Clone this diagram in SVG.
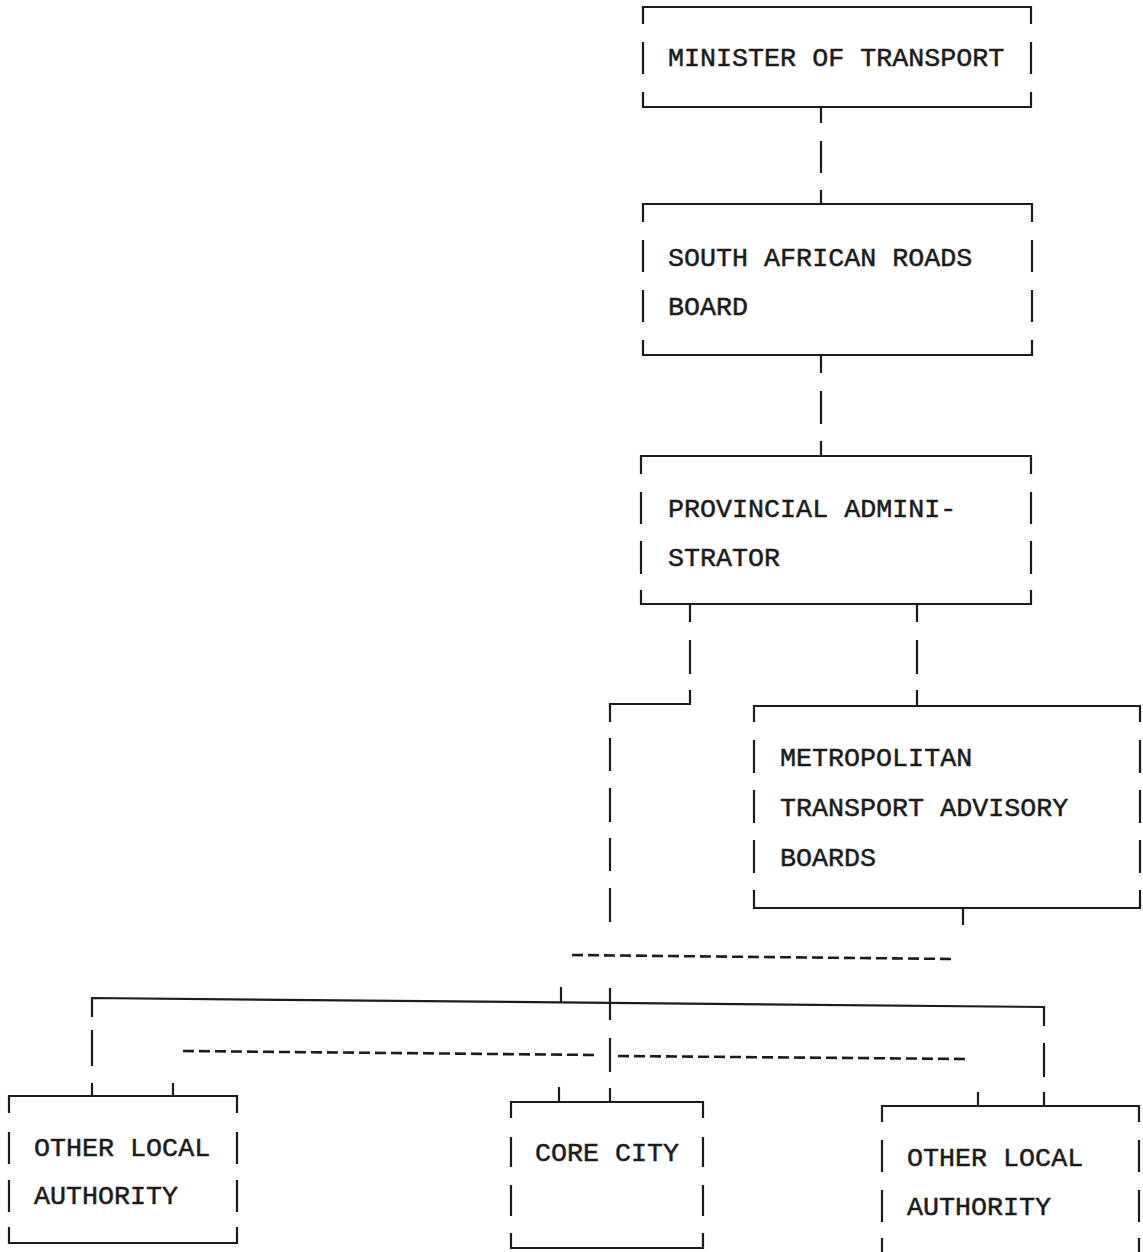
<svg xmlns="http://www.w3.org/2000/svg" width="1143" height="1252" viewBox="0 0 1143 1252">
<style>
.ln{fill:none;stroke:#1b1b1b;stroke-width:2.2;stroke-linecap:butt}
.dsh{fill:none;stroke:#1b1b1b;stroke-width:2.6;stroke-dasharray:11 5}
.t{font-family:"Liberation Mono","Courier New",monospace;font-size:26.7px;fill:#1b1b1b;stroke:#1b1b1b;stroke-width:0.5}
</style>
<rect width="1143" height="1252" fill="#fff"/>
<g id="connectors">
<path class="ln" d="M821,107V123M821,141V173M821,190V205"/>
<path class="ln" d="M821,355V373M821,391V424M821,441V456"/>
<path class="ln" d="M690,604V622M690,640V674M690,690V704H610V722M610,738V771M610,788V822M610,838V871M610,888V922"/>
<path class="ln" d="M917,604V622M917,640V674M917,690V707"/>
<path class="ln" d="M963,908V925"/>
<path class="dsh" d="M572,955L953,959"/>
<path class="ln" d="M92,1017V998L1044,1007V1026M1044,1043V1077M1044,1092V1107"/>
<path class="ln" d="M561,987V1002M610,988V1020M610,1038V1072M610,1088V1103"/>
<path class="ln" d="M92,1030V1066M92,1083V1096M173,1083V1096"/>
<path class="ln" d="M559,1087V1102M978,1092V1106"/>
<path class="dsh" d="M183,1051L598,1055"/>
<path class="dsh" d="M618,1056L968,1059"/>
</g>
<g id="minister">
<path class="ln" d="M643,24V7H1031V24M643,92V107H1031V92M643,42V74M1031,42V74"/>
<text class="t" x="668" y="66">MINISTER OF TRANSPORT</text>
</g>
<g id="sarb">
<path class="ln" d="M643,222V204H1032V222M643,340V355H1032V340M643,240V272M643,290V322M1032,240V272M1032,290V322"/>
<text class="t" x="668" y="266">SOUTH AFRICAN ROADS</text>
<text class="t" x="668" y="315">BOARD</text>
</g>
<g id="provincial">
<path class="ln" d="M641,474V456H1031V474M641,590V604H1031V590M641,492V524M641,541V574M1031,492V524M1031,541V574"/>
<text class="t" x="668" y="517">PROVINCIAL ADMINI-</text>
<text class="t" x="668" y="566">STRATOR</text>
</g>
<g id="mtab">
<path class="ln" d="M754,722V706H1140V722M754,890V908H1140V890M754,740V773M754,790V823M754,840V873M1140,740V773M1140,790V823M1140,840V873"/>
<text class="t" x="780" y="766">METROPOLITAN</text>
<text class="t" x="780" y="816">TRANSPORT ADVISORY</text>
<text class="t" x="780" y="866">BOARDS</text>
</g>
<g id="ola-left">
<path class="ln" d="M9,1113V1096H237V1113M9,1227V1243H237V1227M9,1132V1164M9,1180V1212M237,1132V1164M237,1180V1212"/>
<text class="t" x="34" y="1156">OTHER LOCAL</text>
<text class="t" x="34" y="1204">AUTHORITY</text>
</g>
<g id="core-city">
<path class="ln" d="M511,1118V1102H703V1118M511,1233V1248H703V1233M511,1137V1167M511,1185V1216M703,1137V1167M703,1185V1216"/>
<text class="t" x="535" y="1161">CORE CITY</text>
</g>
<g id="ola-right">
<path class="ln" d="M882,1122V1106H1139V1122M882,1140V1172M882,1190V1222M882,1238V1260M1139,1140V1172M1139,1190V1222M1139,1238V1260"/>
<text class="t" x="907" y="1166">OTHER LOCAL</text>
<text class="t" x="907" y="1215">AUTHORITY</text>
</g>
</svg>
